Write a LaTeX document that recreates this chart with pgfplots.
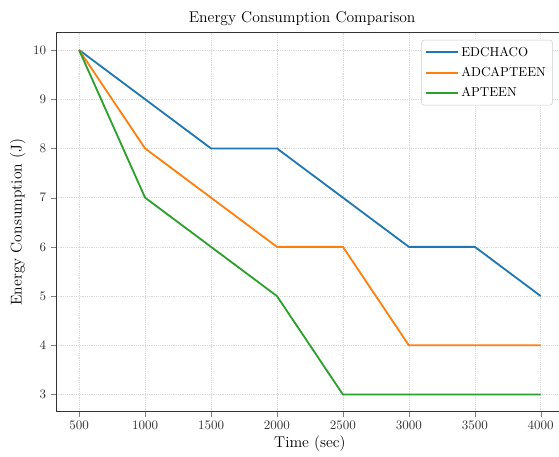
\documentclass[border=0pt]{standalone}
\usepackage{pgfplots}
\pgfplotsset{compat=1.18}

\definecolor{tabblue}{HTML}{1F77B4}
\definecolor{taborange}{HTML}{FF7F0E}
\definecolor{tabgreen}{HTML}{2CA02C}

\begin{document}
\begin{tikzpicture}
\begin{axis}[
    name=ax,
    scale only axis,
    width=390.6pt, height=291.5pt,
    xmin=325, xmax=4175,
    ymin=2.65, ymax=10.35,
    xtick={500,1000,...,4000},
    ytick={3,4,...,10},
    xticklabel style={/pgf/number format/1000 sep={}},
    tick label style={font=\normalsize, black!80},
    tick align=outside,
    major tick length=4pt,
    xtick pos=bottom, ytick pos=left,
    grid=major,
    grid style={densely dotted, black!15},
    axis line style={black!80, line width=0.8pt},
    title={Energy Consumption Comparison},
    title style={font=\large, yshift=-4.3pt, xshift=-6pt},
    xlabel={Time (sec)},
    ylabel={Energy Consumption (J)},
    label style={font=\large},
    xlabel style={yshift=2pt},
    ylabel style={yshift=-1pt},
    legend style={draw=black!20, rounded corners=2pt, font=\normalsize,
        at={(0.978,0.981)}, anchor=north east, row sep=3pt,
        inner sep=3pt},
    legend cell align=left,
    legend image code/.code={\draw[#1] (0cm,0cm) -- (0.85cm,0cm);},
]
\addplot[tabblue, line width=1.4pt] coordinates {
    (500,10) (1000,9) (1500,8) (2000,8) (2500,7) (3000,6) (3500,6) (4000,5)};
\addlegendentry{EDCHACO}
\addplot[taborange, line width=1.4pt] coordinates {
    (500,10) (1000,8) (1500,7) (2000,6) (2500,6) (3000,4) (3500,4) (4000,4)};
\addlegendentry{ADCAPTEEN}
\addplot[tabgreen, line width=1.4pt] coordinates {
    (500,10) (1000,7) (1500,6) (2000,5) (2500,3) (3000,3) (3500,3) (4000,3)};
\addlegendentry{APTEEN}
\end{axis}
\pgfresetboundingbox
\useasboundingbox ([shift={(-43.1pt,-34.8pt)}]ax.south west) rectangle ([shift={(386.9pt,316.7pt)}]ax.south west);
\end{tikzpicture}
\end{document}
